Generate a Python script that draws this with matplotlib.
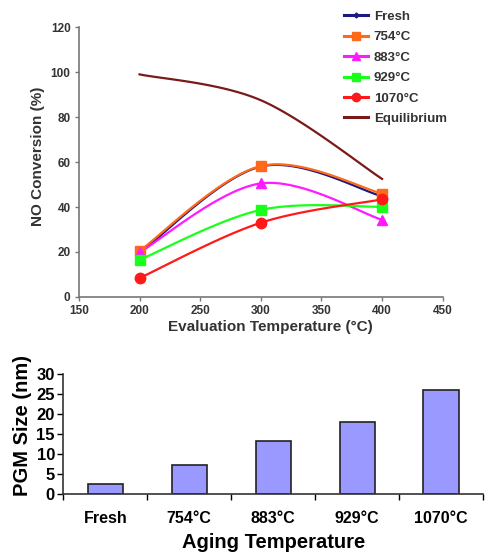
import numpy as np
import matplotlib
matplotlib.use('Agg')
import matplotlib.pyplot as plt
from matplotlib.lines import Line2D

plt.rcParams['font.family'] = ['Liberation Sans', 'DejaVu Sans']
plt.rcParams['font.weight'] = 'bold'
plt.rcParams['axes.labelweight'] = 'bold'

# Conversion de NO selon la température d'évaluation
temp_eval = [200, 300, 400]
no_conv = {
    'Fresh':   [19.5, 58.0, 44.8],
    '754°C':  [20.5, 58.2, 46.0],
    '883°C':  [19.8, 50.5, 34.3],
    '929°C':  [16.5, 38.7, 40.1],
    '1070°C': [8.4, 33.0, 43.4],
}
no_eq = [99.0, 87.5, 52.5]

# Taille des particules PGM selon la température de vieillissement
aging = ['Fresh', '754°C', '883°C', '929°C', '1070°C']
pgm_size = [2.5, 7.3, 13.2, 18.0, 26.0]

styles = {
    'Fresh':   dict(color='#1a1a80', marker='D', ms=4),
    '754°C':  dict(color='#ff6a1a', marker='s', ms=7),
    '883°C':  dict(color='#ff1aff', marker='^', ms=7.5),
    '929°C':  dict(color='#1aff1a', marker='s', ms=7.5),
    '1070°C': dict(color='#ff1a1a', marker='o', ms=7.5),
}
eq_color = '#7a1a1a'


def smooth(x, y, n=40):
    # courbe lissée façon Excel (Catmull-Rom) passant par les points
    pts = np.column_stack([x, y]).astype(float)
    p = np.vstack([pts[0], pts, pts[-1]])
    t = np.linspace(0, 1, n)[:, None]
    out = []
    for i in range(1, len(p) - 2):
        p0, p1, p2, p3 = p[i-1], p[i], p[i+1], p[i+2]
        c = 0.5*((2*p1) + (-p0 + p2)*t + (2*p0 - 5*p1 + 4*p2 - p3)*t**2
                 + (-p0 + 3*p1 - 3*p2 + p3)*t**3)
        out.append(c)
    c = np.vstack(out)
    return c[:, 0], c[:, 1]


fig = plt.figure(figsize=(4.87, 5.54), dpi=100)

#
# Graphique du haut : conversion de NO
#
ax = fig.add_axes([0.162, 0.464, 0.747, 0.487])
txt = '#333333'
handles = []
for name, vals in no_conv.items():
    st = styles[name]
    sx, sy = smooth(temp_eval, vals)
    ax.plot(sx, sy, color=st['color'], lw=1.6, zorder=2)
    ax.plot(temp_eval, vals, ls='none', marker=st['marker'], ms=st['ms'],
            color=st['color'], zorder=3)
    handles.append(Line2D([], [], color=st['color'], lw=2.2, marker=st['marker'],
                          ms=st['ms'] - 1.5, label=name))
sx, sy = smooth(temp_eval, no_eq)
ax.plot(sx, sy, color=eq_color, lw=1.6, zorder=2)
handles.append(Line2D([], [], color=eq_color, lw=2.2, label='Equilibrium'))

ax.set_xlim(150, 450)
ax.set_ylim(0, 120)
ax.set_xticks(np.arange(150, 451, 50))
ax.set_yticks(np.arange(0, 121, 20))
for s in ['top', 'right']:
    ax.spines[s].set_visible(False)
for s in ['left', 'bottom']:
    ax.spines[s].set_color('#777777')
    ax.spines[s].set_linewidth(1.2)
ax.tick_params(length=3, width=1, color='#777777', labelsize=8.5, labelcolor=txt, pad=3)
ax.set_xlabel('Evaluation Temperature (°C)', fontsize=11, color=txt)
ax.set_ylabel('NO Conversion (%)', fontsize=11, color=txt)
ax.xaxis.set_label_coords(0.525, -0.085)
ax.yaxis.set_label_coords(-0.093, 0.52)

fig.legend(handles=handles, loc='upper left', bbox_to_anchor=(0.69, 0.995),
           frameon=False, fontsize=9.5, handlelength=1.8, handletextpad=0.45,
           labelspacing=0.62, labelcolor=txt, borderaxespad=0.2)

#
# Graphique du bas : taille des particules PGM
#
bx = fig.add_axes([0.13, 0.108, 0.862, 0.217])
bx.bar(range(len(aging)), pgm_size, width=0.42, color='#9999ff',
       edgecolor='#222222', linewidth=1.2)
bx.set_xlim(-0.5, len(aging) - 0.5)
bx.set_ylim(0, 30)
bx.set_yticks(np.arange(0, 31, 5))
bx.set_xticks(range(len(aging)), aging)
bx.set_xticks(np.arange(-0.5, len(aging), 1), minor=True)
bx.tick_params(axis='x', which='major', length=0, pad=12, labelsize=11.5)
bx.tick_params(axis='x', which='minor', length=4, width=1)
bx.tick_params(axis='y', length=4, width=1, labelsize=12, pad=2)
for s in ['top', 'right']:
    bx.spines[s].set_visible(False)
for s in ['left', 'bottom']:
    bx.spines[s].set_linewidth(1.2)
    bx.spines[s].set_color('#333333')
bx.set_xlabel('Aging Temperature', fontsize=14.5)
bx.set_ylabel('PGM Size (nm)', fontsize=14.5)
bx.xaxis.set_label_coords(0.5, -0.32)
bx.yaxis.set_label_coords(-0.074, 0.575)

plt.savefig('out.png', dpi=100)
